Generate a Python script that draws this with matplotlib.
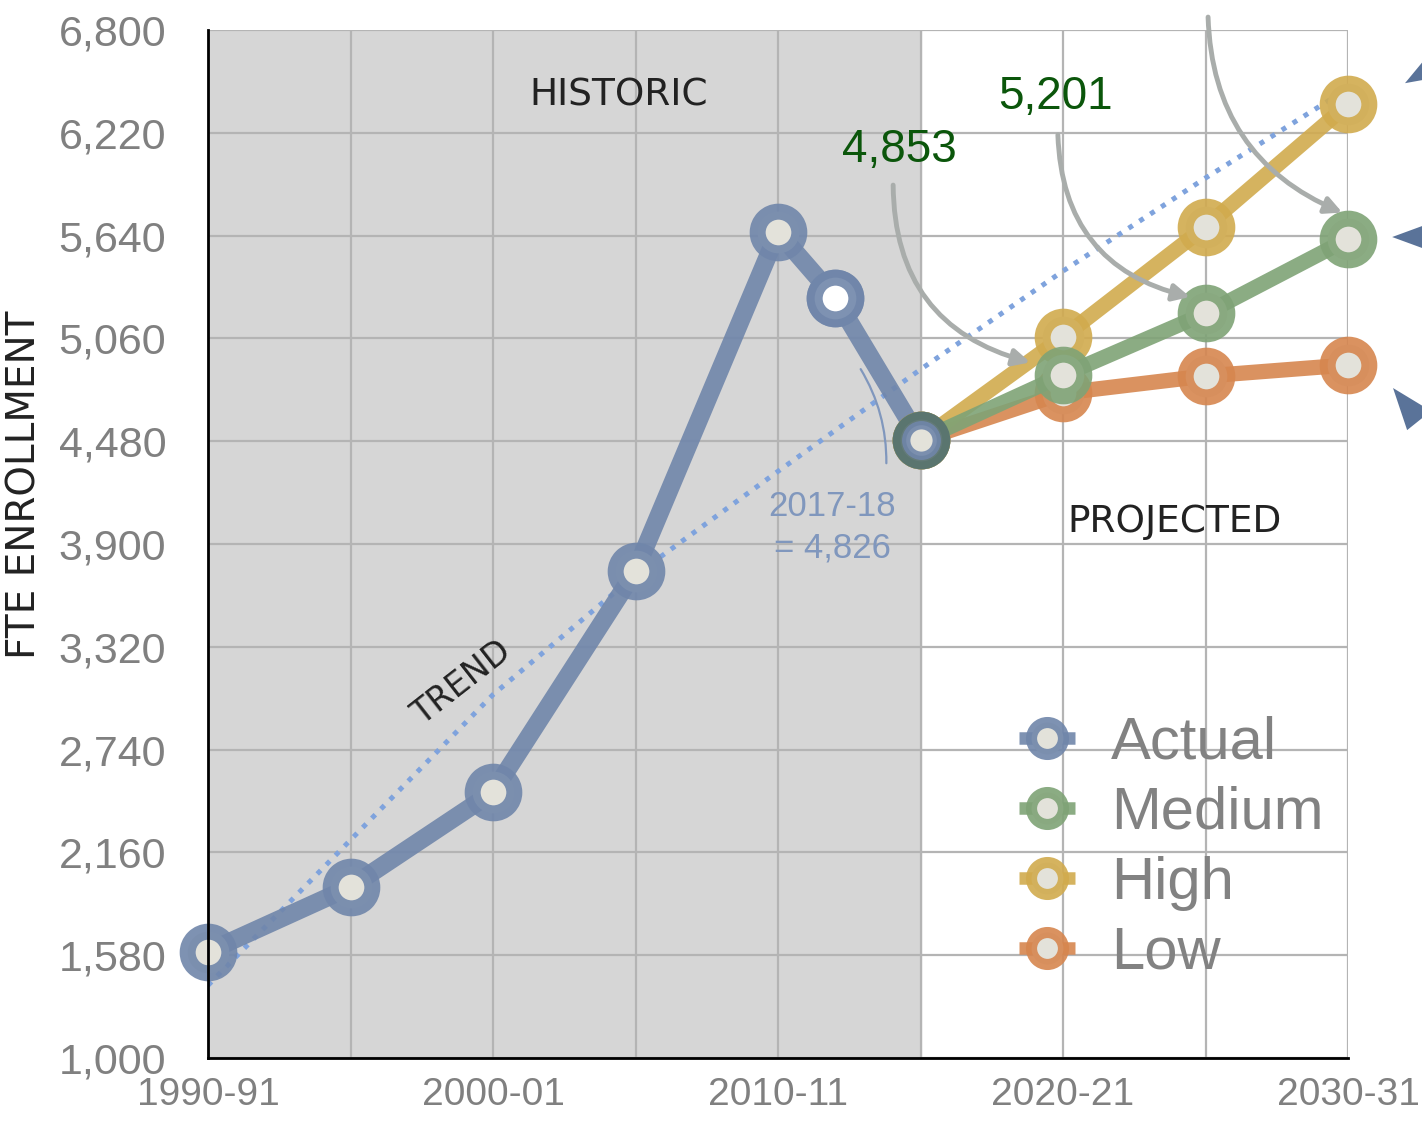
"""
FTE enrollment: historic values and three projections to 2030-31
"""
import matplotlib
matplotlib.use('Agg')
from matplotlib import pyplot as plt
from matplotlib.colors import to_rgba
from matplotlib.lines import Line2D

# Data
actual_years = [1990, 1995, 2000, 2005, 2010, 2012, 2015]
actual = [1600, 1965, 2500, 3750, 5660, 5290, 4485]

proj_years = [2015, 2020, 2025, 2030]
medium = [4485, 4853, 5201, 5620]
high = [4485, 5068, 5690, 6380]
low = [4485, 4752, 4848, 4910]

trend_years = [1990, 1995, 2000, 2005, 2010, 2015, 2020, 2025, 2030]
trend = [1410, 2230, 3050, 3725, 4310, 4885, 5440, 5965, 6470]

y_ticks = [1000, 1580, 2160, 2740, 3320, 3900, 4480, 5060, 5640, 6220, 6800]
x_ticks = [1990, 1995, 2000, 2005, 2010, 2015, 2020, 2025, 2030]
x_labels = ['1990-91', '', '2000-01', '', '2010-11', '', '2020-21', '', '2030-31']

BLUE = '#7086aa'
GREEN = '#7fa376'
GOLD = '#d1ab4e'
ORANGE = '#d6864f'
FILL = '#e3e2da'
DARK_GREEN = '#0b560b'
ARROW = '#a9adab'


def ring(color, a=0.9):
    return to_rgba(color, a)


def main():
    plt.rcParams['font.family'] = ['Liberation Sans', 'DejaVu Sans']
    fig = plt.figure(figsize=(14.22, 11.27), dpi=100)
    ax = fig.add_axes([208 / 1422, 1 - 1058 / 1127, 1140 / 1422, 1028 / 1127])

    ax.set_xlim(1990, 2030)
    ax.set_ylim(1000, 6800)
    ax.axvspan(1990, 2015, color='#d6d6d6', zorder=0)

    # grid
    ax.set_xticks(x_ticks)
    ax.set_xticklabels(x_labels)
    ax.set_yticks(y_ticks)
    ax.set_yticklabels([f'{v:,}' for v in y_ticks])
    ax.grid(True, color='#b4b4b4', lw=1.6, zorder=1)
    ax.set_axisbelow(True)
    ax.tick_params(axis='both', length=0, colors='#808080')
    ax.tick_params(axis='y', labelsize=31, pad=30)
    ax.tick_params(axis='x', labelsize=28, pad=14)
    for s in ['top', 'right']:
        ax.spines[s].set_visible(False)
    for s in ['left', 'bottom']:
        ax.spines[s].set_color('black')
        ax.spines[s].set_linewidth(2)
        ax.spines[s].set_zorder(6)

    # trend
    ax.plot(trend_years, trend, ls=(0, (1, 1.6)), lw=3.6, color='#7fa3dd', zorder=2)

    mk = dict(marker='o', ms=30, mew=11.5, mfc=FILL, clip_on=False)
    ax.plot(actual_years, actual, color=ring(BLUE), lw=13, mec=ring(BLUE), zorder=3,
            solid_capstyle='round', **mk)
    # the 2012 point is drawn hollow white
    ax.plot(actual_years[5], actual[5], ls='none', marker='o', ms=30, mew=11.5,
            mfc='white', mec=ring(BLUE), zorder=3.5)
    ax.plot(proj_years, low, color=ring(ORANGE), lw=11, mec=ring(ORANGE), zorder=4, **mk)
    ax.plot(proj_years, high, color=ring(GOLD), lw=11, mec=ring(GOLD), zorder=4, **mk)
    ax.plot(proj_years, medium, color=ring(GREEN), lw=11, mec=ring(GREEN), zorder=4, **mk)
    # start point where the projections meet
    ax.plot(proj_years[0], medium[0], ls='none', marker='o', ms=30, mew=11.5,
            mfc=FILL, mec='#56706f', alpha=0.9, zorder=5)
    ax.plot(proj_years[0], medium[0], ls='none', marker='o', ms=22, mew=6,
            mfc=FILL, mec=ring(BLUE), zorder=5.1)

    # legend
    names = ['Actual', 'Medium', 'High', 'Low']
    colors = [BLUE, GREEN, GOLD, ORANGE]
    handles = [Line2D([], [], color=ring(c), lw=9, marker='o', ms=23, mew=8,
                      mfc=FILL, mec=ring(c), solid_capstyle='butt') for c in colors]
    leg = ax.legend(handles, names, loc='upper left', bbox_to_anchor=(0.685, 0.362),
                    frameon=False, fontsize=43, handlelength=0.95, handletextpad=0.6,
                    labelspacing=0.25, borderpad=0)
    for t in leg.get_texts():
        t.set_color('#828282')

    # value labels with curved arrows
    ax.text(2014.25, 6123, f'{medium[1]:,}', color=DARK_GREEN, fontsize=33,
            ha='center', va='center', zorder=7)
    ax.text(2019.72, 6422, f'{medium[2]:,}', color=DARK_GREEN, fontsize=33,
            ha='center', va='center', zorder=7)
    ax.text(2025.4, 7090, f'{medium[3]:,}', color=DARK_GREEN, fontsize=33,
            ha='center', va='center', zorder=7, clip_on=False)
    arrow = dict(arrowstyle='-|>,head_length=1.0,head_width=0.5', color=ARROW, lw=3.5,
                 shrinkA=0, shrinkB=0)
    ax.annotate('', xy=(2018.85, 4925), xytext=(2014.04, 5925),
                arrowprops=dict(connectionstyle='arc3,rad=0.38', **arrow), zorder=6)
    ax.annotate('', xy=(2024.46, 5294), xytext=(2019.82, 6208),
                arrowprops=dict(connectionstyle='arc3,rad=0.38', **arrow), zorder=6)
    ax.annotate('', xy=(2029.8, 5770), xytext=(2025.09, 6873),
                arrowprops=dict(connectionstyle='arc3,rad=0.32', **arrow), zorder=6,
                annotation_clip=False)

    # pointers coming in from the right edge, aimed at the 2030 values
    pointers = [(2032.0, high[3] + 120, (60, 35)),
                (2031.55, medium[3] + 12, (60, 0)),
                (2031.58, low[3] - 130, (40, -50))]
    for px, py, off in pointers:
        ax.annotate('', xy=(px, py), xytext=off, textcoords='offset points',
                    arrowprops=dict(arrowstyle='-|>,head_length=1.5,head_width=0.55',
                                    mutation_scale=20, color='#5a7399', lw=0,
                                    shrinkA=0, shrinkB=0),
                    annotation_clip=False)

    # 2017-18 note
    ax.text(2011.9, 3995, '2017-18\n= 4,826', color='#8097bd', fontsize=25,
            family=['Liberation Sans Narrow', 'Liberation Sans'], ha='center',
            va='center', linespacing=1.3, zorder=7)
    ax.annotate('', xy=(2012.85, 4900), xytext=(2013.8, 4340),
                arrowprops=dict(arrowstyle='-', color='#8097bd', lw=1.6,
                                connectionstyle='arc3,rad=0.15'), zorder=7)

    # hand-lettered labels
    ax.text(2004.4, 6433, 'HISTORIC', fontsize=27, color='#222222', ha='center',
            va='center', family='DejaVu Sans', zorder=7)
    ax.text(2023.9, 4024, 'PROJECTED', fontsize=27, color='#222222', ha='center',
            va='center', family='DejaVu Sans', zorder=7)
    ax.text(1998.9, 3115, 'TREND', fontsize=24, color='#222222', ha='center',
            va='center', rotation=38, family='DejaVu Sans', zorder=7)
    fig.text(25 / 1422, 1 - 485 / 1127, 'FTE ENROLLMENT', fontsize=28, color='#222222',
             rotation=90, ha='center', va='center', family='DejaVu Sans')

    fig.savefig('out.png', dpi=100)


if __name__ == '__main__':
    main()
